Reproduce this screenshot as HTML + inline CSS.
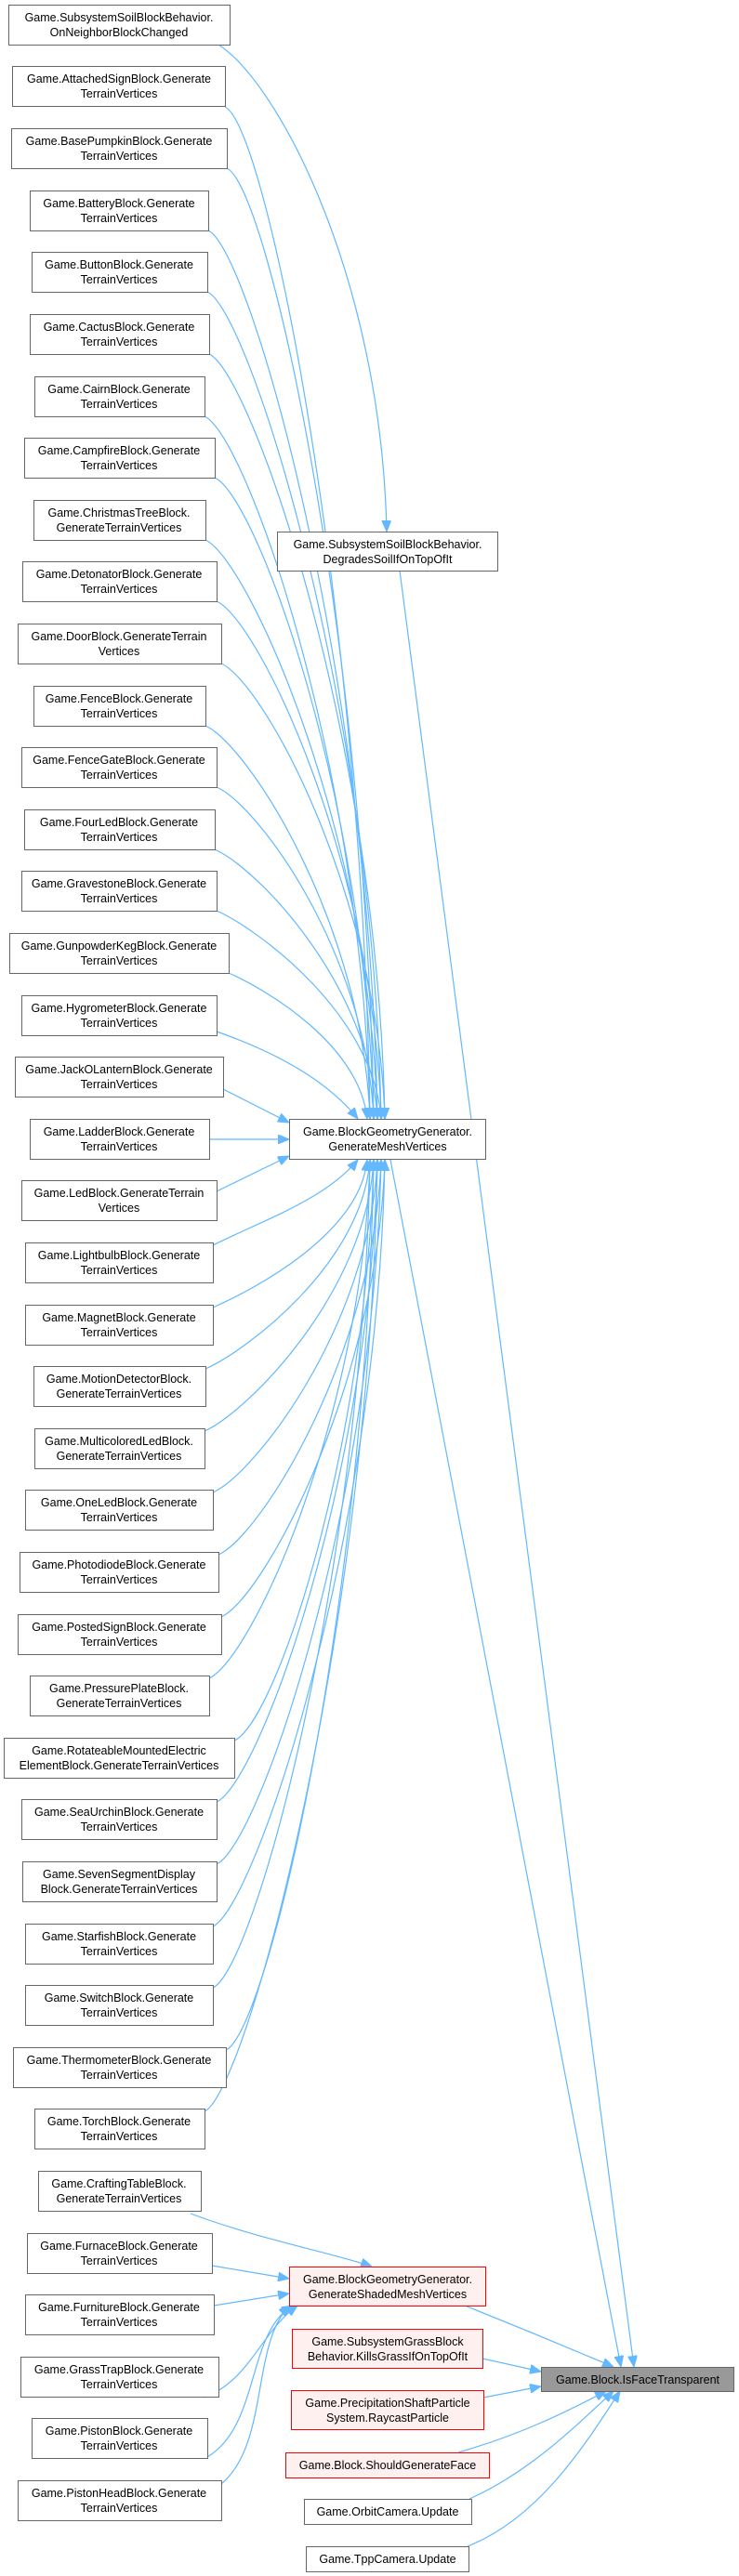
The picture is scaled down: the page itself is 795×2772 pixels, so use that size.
<!DOCTYPE html>
<html><head><meta charset="utf-8"><style>
html,body{margin:0;padding:0;background:#fff}
svg{display:block}
text{font-family:"Liberation Sans",Arial,sans-serif;font-size:12.5px;fill:#000;text-anchor:middle}
.n{fill:#fff;stroke:#666;stroke-width:1}
.r{fill:#fff0f0;stroke:#ff0000;stroke-width:1}
.g{fill:#999;stroke:#666;stroke-width:1}
.e{fill:none;stroke:#63b8ff;stroke-width:1.2;marker-end:url(#a)}
</style></head><body>
<svg width="795" height="2772" viewBox="0 0 795 2772" xmlns="http://www.w3.org/2000/svg">
<defs><marker id="a" markerUnits="userSpaceOnUse" markerWidth="12" markerHeight="10" refX="12" refY="5" orient="auto"><path d="M0,0 L12,5 L0,10 z" fill="#63b8ff" stroke="#63b8ff"/></marker></defs>
<g>
<path class="e" d="M235,48 C300,90 410,300 416,572"/>
<path class="e" d="M242,115 C287,135 390,660 398,1204"/>
<path class="e" d="M244,181 C289,201 394,692 402,1204"/>
<path class="e" d="M224,248 C269,268 398,726 406,1204"/>
<path class="e" d="M223,314 C268,334 402,759 410,1204"/>
<path class="e" d="M225,381 C270,401 406,792 414,1204"/>
<path class="e" d="M220,448 C265,468 390,826 398,1204"/>
<path class="e" d="M231,514 C276,534 394,859 402,1204"/>
<path class="e" d="M221,581 C266,601 398,892 406,1204"/>
<path class="e" d="M233,647 C278,667 402,926 410,1204"/>
<path class="e" d="M238,714 C283,734 406,959 414,1204"/>
<path class="e" d="M221,781 C266,801 390,992 398,1204"/>
<path class="e" d="M233,847 C278,867 394,1026 402,1204"/>
<path class="e" d="M231,914 C276,934 398,1059 406,1204"/>
<path class="e" d="M233,980 C278,1000 402,1092 410,1204"/>
<path class="e" d="M246,1047 C291,1067 387,1126 395,1204"/>
<path class="e" d="M233,1110 C290,1130 350,1160 385,1204"/>
<path class="e" d="M240,1172 L311,1208"/>
<path class="e" d="M225,1226 L311,1226"/>
<path class="e" d="M233,1282 L311,1244"/>
<path class="e" d="M229,1340 C290,1310 350,1290 385,1248"/>
<path class="e" d="M229,1407 C274,1387 387,1328 395,1248"/>
<path class="e" d="M221,1473 C266,1453 390,1359 398,1248"/>
<path class="e" d="M220,1540 C265,1520 394,1392 402,1248"/>
<path class="e" d="M229,1606 C274,1586 398,1426 406,1248"/>
<path class="e" d="M235,1673 C280,1653 402,1459 410,1248"/>
<path class="e" d="M238,1740 C283,1720 406,1492 414,1248"/>
<path class="e" d="M225,1806 C270,1786 390,1526 398,1248"/>
<path class="e" d="M252,1873 C297,1853 394,1559 402,1248"/>
<path class="e" d="M233,1939 C278,1919 398,1592 406,1248"/>
<path class="e" d="M233,2006 C278,1986 402,1626 410,1248"/>
<path class="e" d="M229,2073 C274,2053 406,1659 414,1248"/>
<path class="e" d="M229,2139 C274,2119 390,1692 398,1248"/>
<path class="e" d="M243,2206 C288,2186 394,1726 402,1248"/>
<path class="e" d="M220,2272 C265,2252 398,1759 406,1248"/>
<path class="e" d="M420,1248 L668,2547"/>
<path class="e" d="M430,614 L682,2547"/>
<path class="e" d="M500,2481 C560,2505 620,2530 660,2547"/>
<path class="e" d="M519,2538 L582,2552"/>
<path class="e" d="M520,2580 L582,2568"/>
<path class="e" d="M493,2639 C560,2620 610,2595 652,2573"/>
<path class="e" d="M505,2689 C570,2660 620,2610 660,2573"/>
<path class="e" d="M503,2740 C580,2710 630,2630 667,2573"/>
<path class="e" d="M205,2382 C280,2410 360,2425 400,2439"/>
<path class="e" d="M228,2438 L311,2452"/>
<path class="e" d="M230,2481 L311,2468"/>
<path class="e" d="M220,2580 C270,2560 280,2510 320,2481"/>
<path class="e" d="M223,2644 C280,2610 265,2510 315,2481"/>
<path class="e" d="M238,2673 C290,2630 270,2520 312,2481"/>
</g>
<g>
<rect class="n" x="9.5" y="5.5" width="238" height="43"/><text x="128" y="23">Game.SubsystemSoilBlockBehavior.</text><text x="128" y="39">OnNeighborBlockChanged</text>
<rect class="n" x="13.5" y="71.5" width="229" height="43"/><text x="128" y="89">Game.AttachedSignBlock.Generate</text><text x="128" y="105">TerrainVertices</text>
<rect class="n" x="12.5" y="138.5" width="232" height="43"/><text x="128" y="156">Game.BasePumpkinBlock.Generate</text><text x="128" y="172">TerrainVertices</text>
<rect class="n" x="32.5" y="205.5" width="192" height="43"/><text x="128" y="223">Game.BatteryBlock.Generate</text><text x="128" y="239">TerrainVertices</text>
<rect class="n" x="34.5" y="271.5" width="189" height="43"/><text x="128" y="289">Game.ButtonBlock.Generate</text><text x="128" y="305">TerrainVertices</text>
<rect class="n" x="32.5" y="338.5" width="193" height="43"/><text x="128" y="356">Game.CactusBlock.Generate</text><text x="128" y="372">TerrainVertices</text>
<rect class="n" x="37.5" y="405.5" width="183" height="43"/><text x="128" y="423">Game.CairnBlock.Generate</text><text x="128" y="439">TerrainVertices</text>
<rect class="n" x="26.5" y="471.5" width="205" height="43"/><text x="128" y="489">Game.CampfireBlock.Generate</text><text x="128" y="505">TerrainVertices</text>
<rect class="n" x="36.5" y="538.5" width="185" height="43"/><text x="128" y="556">Game.ChristmasTreeBlock.</text><text x="128" y="572">GenerateTerrainVertices</text>
<rect class="n" x="24.5" y="604.5" width="209" height="43"/><text x="128" y="622">Game.DetonatorBlock.Generate</text><text x="128" y="638">TerrainVertices</text>
<rect class="n" x="19.5" y="671.5" width="219" height="43"/><text x="128" y="689">Game.DoorBlock.GenerateTerrain</text><text x="128" y="705">Vertices</text>
<rect class="n" x="36.5" y="738.5" width="185" height="43"/><text x="128" y="756">Game.FenceBlock.Generate</text><text x="128" y="772">TerrainVertices</text>
<rect class="n" x="23.5" y="804.5" width="210" height="43"/><text x="128" y="822">Game.FenceGateBlock.Generate</text><text x="128" y="838">TerrainVertices</text>
<rect class="n" x="26.5" y="871.5" width="205" height="43"/><text x="128" y="889">Game.FourLedBlock.Generate</text><text x="128" y="905">TerrainVertices</text>
<rect class="n" x="23.5" y="937.5" width="210" height="43"/><text x="128" y="955">Game.GravestoneBlock.Generate</text><text x="128" y="971">TerrainVertices</text>
<rect class="n" x="10.5" y="1004.5" width="236" height="43"/><text x="128" y="1022">Game.GunpowderKegBlock.Generate</text><text x="128" y="1038">TerrainVertices</text>
<rect class="n" x="23.5" y="1071.5" width="210" height="43"/><text x="128" y="1089">Game.HygrometerBlock.Generate</text><text x="128" y="1105">TerrainVertices</text>
<rect class="n" x="16.5" y="1137.5" width="224" height="43"/><text x="128" y="1155">Game.JackOLanternBlock.Generate</text><text x="128" y="1171">TerrainVertices</text>
<rect class="n" x="32.5" y="1204.5" width="193" height="43"/><text x="128" y="1222">Game.LadderBlock.Generate</text><text x="128" y="1238">TerrainVertices</text>
<rect class="n" x="23.5" y="1270.5" width="210" height="43"/><text x="128" y="1288">Game.LedBlock.GenerateTerrain</text><text x="128" y="1304">Vertices</text>
<rect class="n" x="27.5" y="1337.5" width="202" height="43"/><text x="128" y="1355">Game.LightbulbBlock.Generate</text><text x="128" y="1371">TerrainVertices</text>
<rect class="n" x="27.5" y="1404.5" width="202" height="43"/><text x="128" y="1422">Game.MagnetBlock.Generate</text><text x="128" y="1438">TerrainVertices</text>
<rect class="n" x="36.5" y="1470.5" width="185" height="43"/><text x="128" y="1488">Game.MotionDetectorBlock.</text><text x="128" y="1504">GenerateTerrainVertices</text>
<rect class="n" x="37.5" y="1537.5" width="183" height="43"/><text x="128" y="1555">Game.MulticoloredLedBlock.</text><text x="128" y="1571">GenerateTerrainVertices</text>
<rect class="n" x="27.5" y="1603.5" width="202" height="43"/><text x="128" y="1621">Game.OneLedBlock.Generate</text><text x="128" y="1637">TerrainVertices</text>
<rect class="n" x="21.5" y="1670.5" width="214" height="43"/><text x="128" y="1688">Game.PhotodiodeBlock.Generate</text><text x="128" y="1704">TerrainVertices</text>
<rect class="n" x="19.5" y="1737.5" width="219" height="43"/><text x="128" y="1755">Game.PostedSignBlock.Generate</text><text x="128" y="1771">TerrainVertices</text>
<rect class="n" x="32.5" y="1803.5" width="193" height="43"/><text x="128" y="1821">Game.PressurePlateBlock.</text><text x="128" y="1837">GenerateTerrainVertices</text>
<rect class="n" x="4.5" y="1870.5" width="248" height="43"/><text x="128" y="1888">Game.RotateableMountedElectric</text><text x="128" y="1904">ElementBlock.GenerateTerrainVertices</text>
<rect class="n" x="23.5" y="1936.5" width="210" height="43"/><text x="128" y="1954">Game.SeaUrchinBlock.Generate</text><text x="128" y="1970">TerrainVertices</text>
<rect class="n" x="24.5" y="2003.5" width="209" height="43"/><text x="128" y="2021">Game.SevenSegmentDisplay</text><text x="128" y="2037">Block.GenerateTerrainVertices</text>
<rect class="n" x="27.5" y="2070.5" width="202" height="43"/><text x="128" y="2088">Game.StarfishBlock.Generate</text><text x="128" y="2104">TerrainVertices</text>
<rect class="n" x="27.5" y="2136.5" width="202" height="43"/><text x="128" y="2154">Game.SwitchBlock.Generate</text><text x="128" y="2170">TerrainVertices</text>
<rect class="n" x="14.5" y="2203.5" width="229" height="43"/><text x="128" y="2221">Game.ThermometerBlock.Generate</text><text x="128" y="2237">TerrainVertices</text>
<rect class="n" x="37.5" y="2269.5" width="183" height="43"/><text x="128" y="2287">Game.TorchBlock.Generate</text><text x="128" y="2303">TerrainVertices</text>
<rect class="n" x="41.5" y="2336.5" width="175" height="43"/><text x="128" y="2354">Game.CraftingTableBlock.</text><text x="128" y="2370">GenerateTerrainVertices</text>
<rect class="n" x="29.5" y="2403.5" width="199" height="43"/><text x="128" y="2421">Game.FurnaceBlock.Generate</text><text x="128" y="2437">TerrainVertices</text>
<rect class="n" x="27.5" y="2469.5" width="203" height="43"/><text x="128" y="2487">Game.FurnitureBlock.Generate</text><text x="128" y="2503">TerrainVertices</text>
<rect class="n" x="22.5" y="2536.5" width="213" height="43"/><text x="128" y="2554">Game.GrassTrapBlock.Generate</text><text x="128" y="2570">TerrainVertices</text>
<rect class="n" x="34.5" y="2602.5" width="189" height="43"/><text x="128" y="2620">Game.PistonBlock.Generate</text><text x="128" y="2636">TerrainVertices</text>
<rect class="n" x="19.5" y="2669.5" width="219" height="43"/><text x="128" y="2687">Game.PistonHeadBlock.Generate</text><text x="128" y="2703">TerrainVertices</text>

<rect class="n" x="298.5" y="572.5" width="237" height="42"/><text x="417" y="590">Game.SubsystemSoilBlockBehavior.</text><text x="417" y="606">DegradesSoilIfOnTopOfIt</text>
<rect class="n" x="311.5" y="1204.5" width="211" height="43"/><text x="417" y="1222">Game.BlockGeometryGenerator.</text><text x="417" y="1238">GenerateMeshVertices</text>
<rect class="r" x="311.5" y="2439.5" width="211" height="42"/><text x="417" y="2457">Game.BlockGeometryGenerator.</text><text x="417" y="2473">GenerateShadedMeshVertices</text>
<rect class="r" x="314.5" y="2506.5" width="205" height="42"/><text x="417" y="2524">Game.SubsystemGrassBlock</text><text x="417" y="2540">Behavior.KillsGrassIfOnTopOfIt</text>
<rect class="r" x="313.5" y="2572.5" width="207" height="42"/><text x="417" y="2590">Game.PrecipitationShaftParticle</text><text x="417" y="2606">System.RaycastParticle</text>
<rect class="r" x="307.5" y="2639.5" width="219" height="27"/><text x="417" y="2657">Game.Block.ShouldGenerateFace</text>
<rect class="n" x="327.5" y="2689.5" width="180" height="27"/><text x="417" y="2707">Game.OrbitCamera.Update</text>
<rect class="n" x="329.5" y="2740.5" width="175" height="27"/><text x="417" y="2758">Game.TppCamera.Update</text>
<rect class="g" x="582.5" y="2547.5" width="207" height="26"/><text x="686" y="2565">Game.Block.IsFaceTransparent</text>
</g>
</svg>
</body></html>
